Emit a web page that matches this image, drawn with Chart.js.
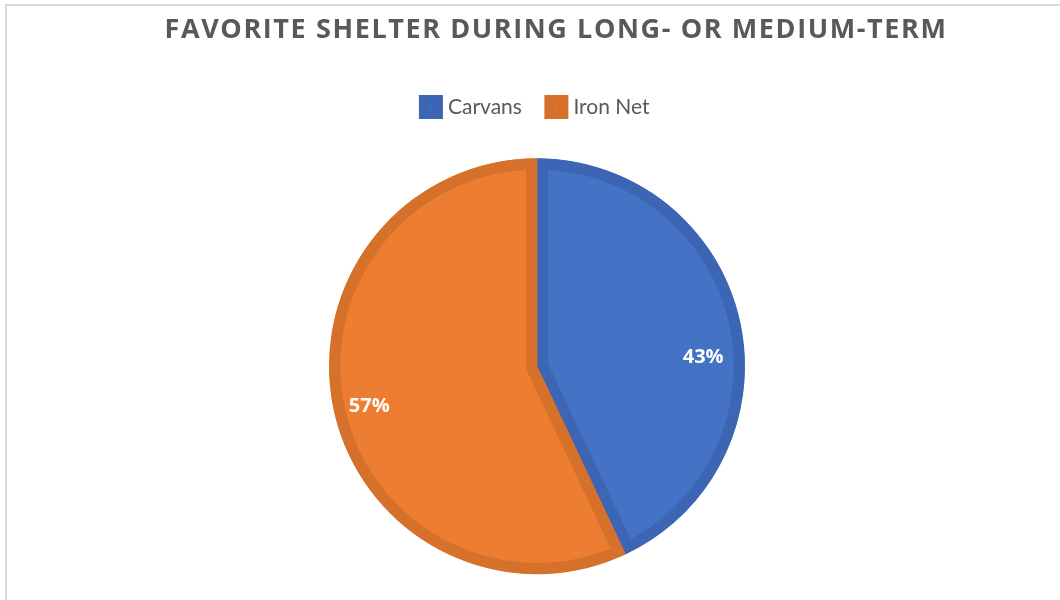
<!DOCTYPE html>
<html>
<head>
<meta charset="utf-8">
<script src="https://cdn.jsdelivr.net/npm/chart.js@4"></script>
<style>
    html, body { margin: 0; padding: 0; background: #fff; overflow: hidden; }
    .frame {
        position: absolute; left: 5px; top: 4px; width: 1100px; height: 650px;
        border-top: 2px solid #d9d9d9; border-left: 2px solid #d9d9d9;
    }
    .wrap { position: absolute; left: 0; top: 0; width: 1060px; height: 605px; }
</style>
</head>
<body>
<div class="frame"></div>
<div class="wrap"><canvas id="chartShelter"></canvas></div>
<script>
    const categories = ['Carvans', 'Iron Net'];
    const shares = [43, 57];
    const percentLabels = ['43%', '57%'];

    const palette = {
        blue: '#4472C4',
        blueEdge: '#3C66B3',
        orange: '#ED7D31',
        orangeEdge: '#D6712B',
        text: '#595959',
    };

    // white % labels inside each slice
    const sliceLabels = {
        id: 'sliceLabels',
        afterDatasetsDraw(chart, args, opts) {
            const ctx = chart.ctx;
            const arcs = chart.getDatasetMeta(0).data;
            ctx.save();
            ctx.fillStyle = '#ffffff';
            ctx.font = 'bold 20px "Open Sans"';
            ctx.textAlign = 'center';
            ctx.textBaseline = 'middle';
            arcs.forEach(function (arc, i) {
                const p = arc.getProps(['x', 'y', 'startAngle', 'endAngle', 'outerRadius']);
                const a = (p.startAngle + p.endAngle) / 2 + (opts.nudge[i] || 0) * Math.PI / 180;
                const r = p.outerRadius * opts.frac[i];
                ctx.fillText(percentLabels[i], p.x + Math.cos(a) * r, p.y + Math.sin(a) * r);
            });
            ctx.restore();
        },
    };

    // the title sits a bit right of the pie centre and is tracked wider in the original
    const titleTweak = {
        id: 'titleTweak',
        afterLayout(chart, args, opts) {
            const block = chart.titleBlock;
            if (!block) return;
            block.left += opts.dx;
            block.right += opts.dx;
            if (!block._spaced) {
                const draw = block.draw;
                block.draw = function (area) {
                    const ctx = this.ctx;
                    ctx.save();
                    ctx.letterSpacing = opts.spacing;
                    draw.call(this, area);
                    ctx.restore();
                };
                block._spaced = true;
            }
        },
    };

    new Chart(document.getElementById('chartShelter'), {
        type: 'pie',
        data: {
            labels: categories,
            datasets: [{
                data: shares,
                backgroundColor: [palette.blue, palette.orange],
                borderColor: [palette.blueEdge, palette.orangeEdge],
                borderWidth: 11,
                borderAlign: 'inner',
            }],
        },
        options: {
            responsive: true,
            maintainAspectRatio: false,
            animation: false,
            radius: 208,
            layout: { padding: { top: 8, left: 14, bottom: 0 } },
            plugins: {
                title: {
                    display: true,
                    text: 'FAVORITE SHELTER DURING LONG- OR MEDIUM-TERM',
                    color: palette.text,
                    font: { family: 'Open Sans', size: 27, weight: 'bold' },
                    padding: { top: 6, bottom: 22 },
                },
                legend: {
                    position: 'top',
                    labels: {
                        color: palette.text,
                        font: { family: 'Lato', size: 21 },
                        boxWidth: 13,
                        boxHeight: 13,
                        padding: 28,
                    },
                },
                tooltip: { enabled: false },
                sliceLabels: { nudge: [9.5, -1], frac: [0.8, 0.83] },
                titleTweak: { dx: 19, spacing: '1.6px' },
            },
        },
        plugins: [sliceLabels, titleTweak],
    });
</script>
</body>
</html>
